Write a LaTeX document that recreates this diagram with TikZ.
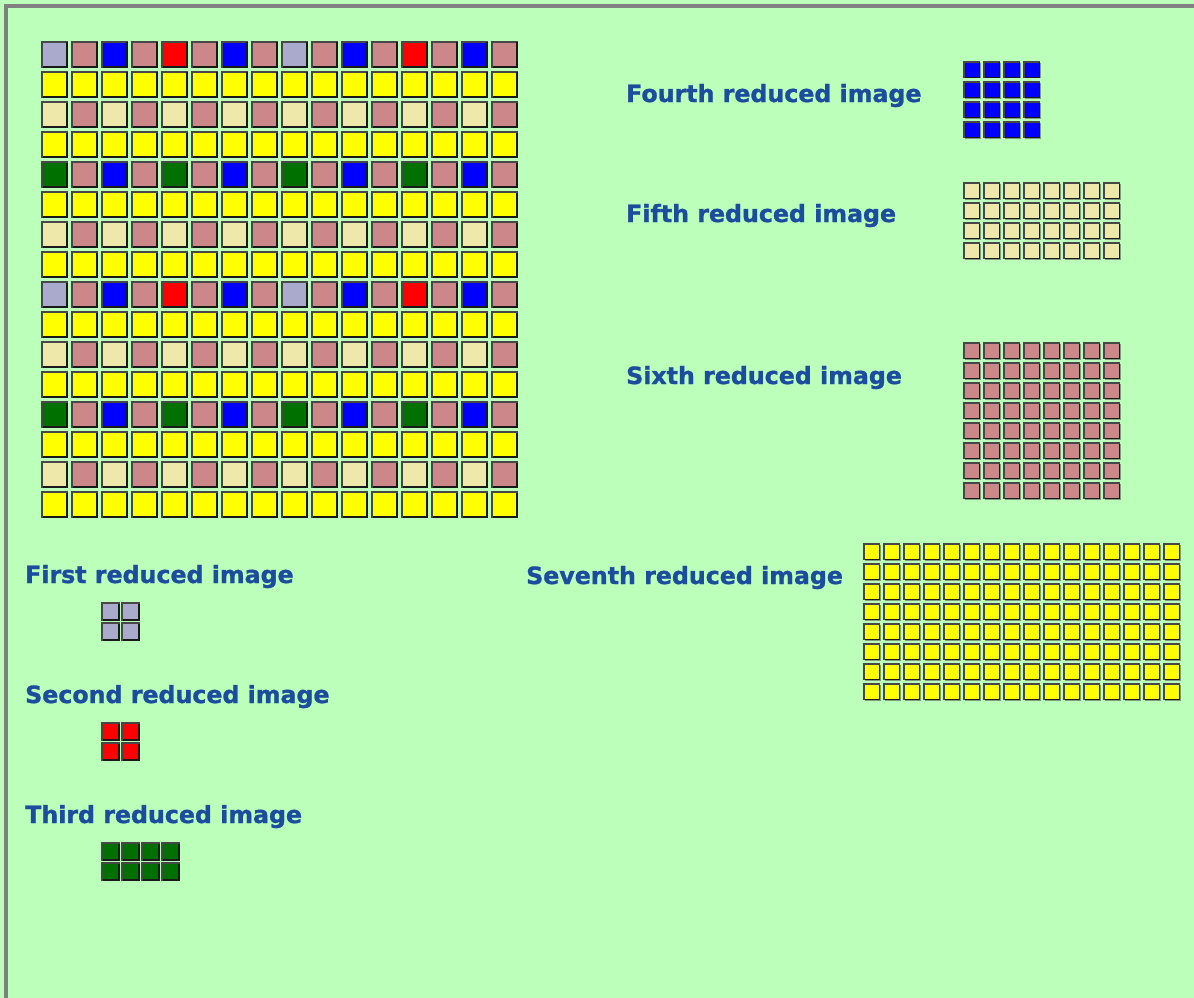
\documentclass[tikz,border=0pt]{standalone}
\usepackage{fontspec}
\setmainfont{DejaVu Sans}
\newfontfamily\lblfont[FakeBold=1.2]{DejaVu Sans Bold}
\definecolor{bg}{RGB}{187,255,187}
\definecolor{frame}{RGB}{128,128,128}
\definecolor{lbl}{RGB}{28,76,158}
\definecolor{lav}{RGB}{170,170,204}
\definecolor{pk}{RGB}{204,136,136}
\definecolor{bl}{RGB}{0,0,255}
\definecolor{rd}{RGB}{255,0,0}
\definecolor{gr}{RGB}{0,112,0}
\definecolor{cr}{RGB}{238,232,170}
\definecolor{ye}{RGB}{255,255,0}
\newcommand\mycell[4]{%
  \pgfmathsetmacro\cx{#1}\pgfmathsetmacro\cy{#2}%
  \fill[black!70,opacity=.55] ({\cx+1.2},{\cy+1.2}) rectangle ++(#3,#3);
  \filldraw[fill=#4,draw=black!72,line width=1.5] (\cx,\cy) rectangle ++(#3,#3);
  \draw[black!90,line width=1.2] ({\cx+#3},{\cy+0.5}) -- ({\cx+#3},{\cy+#3}) -- ({\cx+0.5},{\cy+#3});}
\newcommand\mygrid[6]{% x y cols rows color size
  \foreach \i in {1,...,#3}{\foreach \j in {1,...,#4}{%
    \mycell{#1+(\i-1)*20}{#2+(\j-1)*20}{#6}{#5}}}}
\tikzset{lab/.style={anchor=base west,inner sep=0,text=lbl,font=\lblfont\fontsize{23.7}{28}\selectfont}}
\begin{document}
\begin{tikzpicture}[x=1pt,y=-1pt]
\useasboundingbox (0,0) rectangle (1194,998);
\fill[bg] (0,0) rectangle (1194,998);
\fill[frame] (4,4) rectangle (8,998);
\fill[frame] (4,4) rectangle (1194,8);
% main 16x16 image
\foreach \r/\lst in {
 0/{lav,pk,bl,pk,rd,pk,bl,pk,lav,pk,bl,pk,rd,pk,bl,pk},
 1/{ye,ye,ye,ye,ye,ye,ye,ye,ye,ye,ye,ye,ye,ye,ye,ye},
 2/{cr,pk,cr,pk,cr,pk,cr,pk,cr,pk,cr,pk,cr,pk,cr,pk},
 3/{ye,ye,ye,ye,ye,ye,ye,ye,ye,ye,ye,ye,ye,ye,ye,ye},
 4/{gr,pk,bl,pk,gr,pk,bl,pk,gr,pk,bl,pk,gr,pk,bl,pk},
 5/{ye,ye,ye,ye,ye,ye,ye,ye,ye,ye,ye,ye,ye,ye,ye,ye},
 6/{cr,pk,cr,pk,cr,pk,cr,pk,cr,pk,cr,pk,cr,pk,cr,pk},
 7/{ye,ye,ye,ye,ye,ye,ye,ye,ye,ye,ye,ye,ye,ye,ye,ye},
 8/{lav,pk,bl,pk,rd,pk,bl,pk,lav,pk,bl,pk,rd,pk,bl,pk},
 9/{ye,ye,ye,ye,ye,ye,ye,ye,ye,ye,ye,ye,ye,ye,ye,ye},
 10/{cr,pk,cr,pk,cr,pk,cr,pk,cr,pk,cr,pk,cr,pk,cr,pk},
 11/{ye,ye,ye,ye,ye,ye,ye,ye,ye,ye,ye,ye,ye,ye,ye,ye},
 12/{gr,pk,bl,pk,gr,pk,bl,pk,gr,pk,bl,pk,gr,pk,bl,pk},
 13/{ye,ye,ye,ye,ye,ye,ye,ye,ye,ye,ye,ye,ye,ye,ye,ye},
 14/{cr,pk,cr,pk,cr,pk,cr,pk,cr,pk,cr,pk,cr,pk,cr,pk},
 15/{ye,ye,ye,ye,ye,ye,ye,ye,ye,ye,ye,ye,ye,ye,ye,ye}}{
  \foreach \col [count=\c from 0] in \lst {
    \mycell{42+\c*30}{42+\r*30}{25}{\col}}}
% labels
\node[lab] (l4) at (626,102) {Fourth reduced image};
\node[lab] (l5) at (626,222) {Fifth reduced image};
\node[lab] (l6) at (626,384) {Sixth reduced image};
\node[lab] (l7) at (526,584) {Seventh reduced image};
\node[lab] (l1) at (25,583) {First reduced image};
\node[lab] (l2) at (25,703) {Second reduced image};
\node[lab] (l3) at (25,823) {Third reduced image};
% reduced images
\mygrid{964}{62}{4}{4}{bl}{15.3}
\mygrid{964}{183}{8}{4}{cr}{15.3}
\mygrid{964}{343}{8}{8}{pk}{15.3}
\mygrid{864}{544}{16}{8}{ye}{15.3}
\mygrid{102}{603}{2}{2}{lav}{17}
\mygrid{102}{723}{2}{2}{rd}{17}
\mygrid{102}{843}{4}{2}{gr}{17}
\end{tikzpicture}
\end{document}
